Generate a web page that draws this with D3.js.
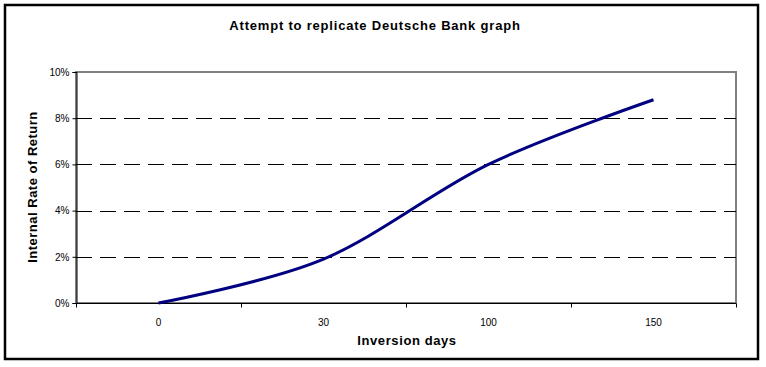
<!DOCTYPE html>
<html>
<head>
<meta charset="utf-8">
<script src="https://cdn.jsdelivr.net/npm/d3@7"></script>
<style>
  body { margin: 0; background: #fff; }
  text { font-family: "Liberation Sans", Arial, sans-serif; }
</style>
</head>
<body>
<div id="chart"></div>
<script>
// Chart data
var categories = ["0", "30", "100", "150"];
var irrValues = [0.0, 0.019, 0.060, 0.088];
var yTicks = [0, 0.02, 0.04, 0.06, 0.08, 0.10];

var W = 766, H = 367;
var margin = {top: 72, right: 30, bottom: 64, left: 76},
    width = 736 - margin.left,
    height = 303 - margin.top;

var svg = d3.select("#chart")
  .append("svg")
    .attr("width", W)
    .attr("height", H);

// Outer chart border
svg.append("rect")
    .attr("x", 5).attr("y", 5)
    .attr("width", 753).attr("height", 354)
    .attr("fill", "#fff")
    .attr("stroke", "#000")
    .attr("stroke-width", 2.5);

// Title
svg.append("text")
    .attr("x", 375).attr("y", 30)
    .attr("text-anchor", "middle")
    .style("font-size", "13px")
    .style("font-weight", "bold")
    .style("letter-spacing", "0.8px")
    .text("Attempt to replicate Deutsche Bank graph");

var g = svg.append("g")
    .attr("transform", `translate(${margin.left},${margin.top})`);

var x = d3.scaleBand()
    .domain(categories)
    .range([0, width])
    .padding(0);

var y = d3.scaleLinear()
    .domain([0, 0.10])
    .range([height, 0]);

// Plot area frame (gray)
g.append("rect")
    .attr("x", 0).attr("y", 0)
    .attr("width", width).attr("height", height)
    .attr("fill", "none")
    .attr("stroke", "#808080")
    .attr("stroke-width", 2);

// Dashed gridlines
g.selectAll(".grid")
    .data(yTicks.filter(function(d) { return d > 0 && d < 0.10; }))
  .enter().append("line")
    .attr("class", "grid")
    .attr("x1", 0).attr("x2", width)
    .attr("y1", function(d) { return Math.round(y(d)) + 0.5; })
    .attr("y2", function(d) { return Math.round(y(d)) + 0.5; })
    .attr("stroke", "#000")
    .attr("stroke-width", 1)
    .attr("stroke-dasharray", "16,8");

// Y axis
var yAxis = g.append("g")
    .attr("transform", "translate(0.5,0)")
    .call(d3.axisLeft(y).tickValues(yTicks).tickFormat(d3.format(".0%")).tickSize(4).tickPadding(3));
yAxis.select(".domain").attr("stroke", "#000");
yAxis.selectAll("text").style("font-size", "10px").attr("fill", "#000");

// X axis: ticks between categories
var xAxis = g.append("g")
    .attr("transform", `translate(0,${height + 0.5})`);
xAxis.append("line")
    .attr("x1", 0).attr("x2", width)
    .attr("stroke", "#000");
var bounds = categories.map(function(c) { return x(c); }).concat([width]);
xAxis.selectAll(".xtick")
    .data(bounds)
  .enter().append("line")
    .attr("x1", function(d) { return Math.round(d) + 0.5; })
    .attr("x2", function(d) { return Math.round(d) + 0.5; })
    .attr("y1", 0).attr("y2", 4)
    .attr("stroke", "#000");
xAxis.selectAll(".xlabel")
    .data(categories)
  .enter().append("text")
    .attr("x", function(d) { return x(d) + x.bandwidth() / 2; })
    .attr("y", 22)
    .attr("text-anchor", "middle")
    .style("font-size", "10px")
    .text(function(d) { return d; });

// Smoothed line
var line = d3.line()
    .x(function(d, i) { return x(categories[i]) + x.bandwidth() / 2; })
    .y(function(d) { return y(d); })
    .curve(d3.curveCardinal.tension(0));

g.append("path")
    .datum(irrValues)
    .attr("fill", "none")
    .attr("stroke", "#000080")
    .attr("stroke-width", 3)
    .attr("d", line);

// Axis titles
svg.append("text")
    .attr("x", 407).attr("y", 345)
    .attr("text-anchor", "middle")
    .style("font-size", "13px")
    .style("font-weight", "bold")
    .style("letter-spacing", "0.6px")
    .text("Inversion days");

svg.append("text")
    .attr("transform", "translate(37,187) rotate(-90)")
    .attr("text-anchor", "middle")
    .style("font-size", "13px")
    .style("font-weight", "bold")
    .style("letter-spacing", "0.5px")
    .text("Internal Rate of Return");
</script>
</body>
</html>
